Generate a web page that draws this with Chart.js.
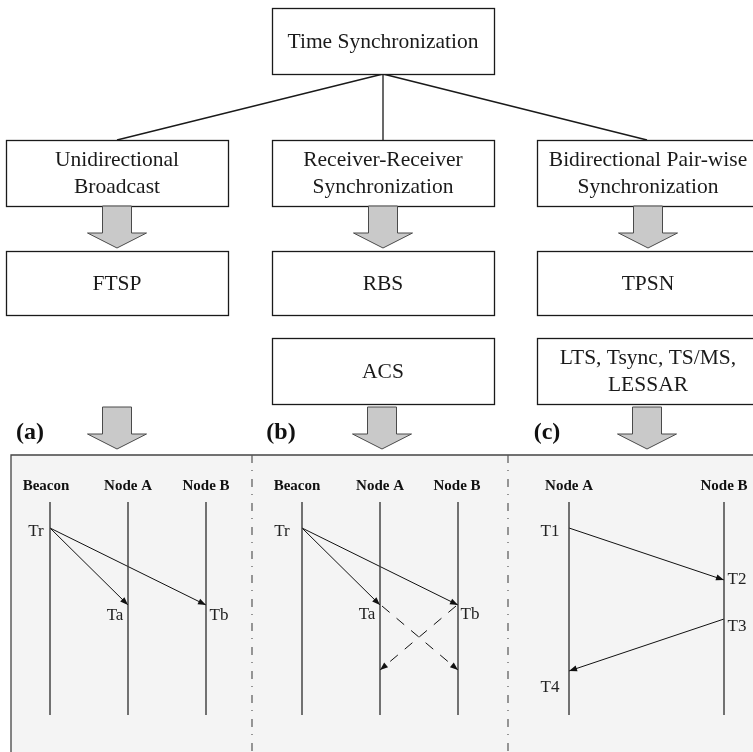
<!DOCTYPE html>
<html>
<head>
<meta charset="utf-8">
<script src="https://cdn.jsdelivr.net/npm/chart.js@4/dist/chart.umd.min.js"></script>
<style>
  html, body { margin: 0; padding: 0; background: #ffffff; }
  canvas { display: block; }
</style>
</head>
<body>
<canvas id="diagram" width="753" height="752"></canvas>
<script>
// ---- Taxonomy tree (diagram units: x 0..753, y 0..752 downwards) ----
const boxRects = [
  [272, 8, 494, 74],
  [6, 140, 228, 206],
  [272, 140, 494, 206],
  [537, 140, 759, 206],
  [6, 251, 228, 315],
  [272, 251, 494, 315],
  [537, 251, 759, 315],
  [272, 338, 494, 404],
  [537, 338, 759, 404]
];
const boxTexts = [
  ["Time Synchronization"],
  ["Unidirectional", "Broadcast"],
  ["Receiver-Receiver", "Synchronization"],
  ["Bidirectional Pair-wise", "Synchronization"],
  ["FTSP"],
  ["RBS"],
  ["TPSN"],
  ["ACS"],
  ["LTS, Tsync, TS/MS,", "LESSAR"]
];
const treeLinks = [
  [383, 74, 117, 140],
  [383, 74, 383, 140],
  [383, 74, 647, 140]
];
// block arrows: centre x, top, tip
const blockArrows = [
  [117, 206, 248], [383, 206, 248], [648, 206, 248],
  [117, 407, 449], [382, 407, 449], [647, 407, 449]
];

// ---- Message diagrams ----
const panelLetters = ["(a)", "(b)", "(c)"];
const panelLetterX = [30, 281, 547];
const panelLetterY = 433;
const panelBand = [11, 455, 753, 752];
const separatorX = [252, 508];

const lifelineNames = ["Beacon", "Node A", "Node B", "Beacon", "Node A", "Node B", "Node A", "Node B"];
const lifelineX = [50, 128, 206, 302, 380, 458, 569, 724];
const lifelineNameX = [46, 128, 206, 297, 380, 457, 569, 724];
const lifelineNameY = 486;
const lifelineSpan = [502, 715];

// messages: x0, y0, x1, y1, dashed
const messages = [
  [50, 528, 128, 605, false],
  [50, 528, 206, 605, false],
  [302, 528, 380, 605, false],
  [302, 528, 458, 605, false],
  [382, 606, 458, 670, true],
  [456, 606, 380, 670, true],
  [569, 528, 724, 580, false],
  [724, 619, 569, 671, false]
];
const eventNames = ["Tr", "Ta", "Tb", "Tr", "Ta", "Tb", "T1", "T2", "T3", "T4"];
const eventX = [36, 115, 219, 282, 367, 470, 550, 737, 737, 550];
const eventY = [532, 616, 616, 532, 615, 615, 532, 580, 627, 688];

const SERIF = '"Liberation Serif", "Times New Roman", serif';

// line datasets built from the arrays above
const datasets = [];
function seg(x0, y0, x1, y1, color, width, dash) {
  datasets.push({
    data: [{ x: x0, y: y0 }, { x: x1, y: y1 }],
    showLine: true,
    borderColor: color,
    borderWidth: width,
    borderDash: dash || [],
    pointRadius: 0,
    fill: false
  });
}
treeLinks.forEach(l => seg(l[0], l[1], l[2], l[3], '#1a1a1a', 1.3));
separatorX.forEach(x => seg(x, panelBand[1], x, panelBand[3], '#555555', 1.2, [8, 7, 1, 8]));
lifelineX.forEach(x => seg(x, lifelineSpan[0], x, lifelineSpan[1], '#3a3a3a', 1.4));
messages.forEach(m => seg(m[0], m[1], m[2], m[3], '#111111', 1, m[4] ? [10, 9] : []));

const diagramPlugin = {
  id: 'diagram',
  beforeDatasetsDraw(chart) {
    const { ctx, scales: { x, y } } = chart;
    const X = v => x.getPixelForValue(v), Y = v => y.getPixelForValue(v);
    ctx.save();
    // shaded band behind the three timing diagrams
    ctx.fillStyle = '#f4f4f4';
    ctx.fillRect(X(panelBand[0]), Y(panelBand[1]), X(panelBand[2]) - X(panelBand[0]), Y(panelBand[3]) - Y(panelBand[1]));
    ctx.strokeStyle = '#444444';
    ctx.lineWidth = 1.3;
    ctx.beginPath();
    ctx.moveTo(X(panelBand[2]), Y(panelBand[1]));
    ctx.lineTo(X(panelBand[0]), Y(panelBand[1]));
    ctx.lineTo(X(panelBand[0]), Y(panelBand[3]));
    ctx.stroke();
    ctx.restore();
  },
  afterDatasetsDraw(chart) {
    const { ctx, scales: { x, y } } = chart;
    const X = v => x.getPixelForValue(v), Y = v => y.getPixelForValue(v);
    ctx.save();
    ctx.textAlign = 'center';
    ctx.textBaseline = 'middle';

    // boxes
    boxRects.forEach((r, i) => {
      const x0 = Math.round(X(r[0])) + 0.5, y0 = Math.round(Y(r[1])) + 0.5;
      const x1 = Math.round(X(r[2])) + 0.5, y1 = Math.round(Y(r[3])) + 0.5;
      ctx.fillStyle = '#ffffff';
      ctx.fillRect(x0, y0, x1 - x0, y1 - y0);
      ctx.strokeStyle = '#1a1a1a';
      ctx.lineWidth = 1.3;
      ctx.strokeRect(x0, y0, x1 - x0, y1 - y0);
      const lines = boxTexts[i];
      const cx = X((r[0] + r[2]) / 2), cy = Y((r[1] + r[3]) / 2);
      ctx.fillStyle = '#1a1a1a';
      ctx.font = '21.5px ' + SERIF;
      const lh = 27;
      lines.forEach((t, k) => {
        ctx.fillText(t, cx, cy + (k - (lines.length - 1) / 2) * lh + 1);
      });
    });

    // grey block arrows
    blockArrows.forEach(a => {
      const cx = X(a[0]), top = Y(a[1]), tip = Y(a[2]);
      const headTop = tip - 15;
      const sw = 14.5, hw = 29.5;
      ctx.beginPath();
      ctx.moveTo(cx - sw, top);
      ctx.lineTo(cx + sw, top);
      ctx.lineTo(cx + sw, headTop);
      ctx.lineTo(cx + hw, headTop);
      ctx.lineTo(cx, tip);
      ctx.lineTo(cx - hw, headTop);
      ctx.lineTo(cx - sw, headTop);
      ctx.closePath();
      ctx.fillStyle = '#c9c9c9';
      ctx.fill();
      ctx.strokeStyle = '#4a4a4a';
      ctx.lineWidth = 1;
      ctx.stroke();
    });

    // panel letters
    ctx.fillStyle = '#111111';
    ctx.font = 'bold 24px ' + SERIF;
    panelLetters.forEach((t, i) => ctx.fillText(t, X(panelLetterX[i]), Y(panelLetterY)));

    // lifeline names
    ctx.font = 'bold 15px ' + SERIF;
    lifelineNames.forEach((t, i) => ctx.fillText(t, X(lifelineNameX[i]), Y(lifelineNameY)));

    // event labels
    ctx.fillStyle = '#222222';
    ctx.font = '17px ' + SERIF;
    eventNames.forEach((t, i) => ctx.fillText(t, X(eventX[i]), Y(eventY[i])));

    // arrow heads on messages
    ctx.fillStyle = '#111111';
    messages.forEach(m => {
      const x0 = X(m[0]), y0 = Y(m[1]), x1 = X(m[2]), y1 = Y(m[3]);
      const ang = Math.atan2(y1 - y0, x1 - x0);
      const len = 8, half = 3;
      ctx.beginPath();
      ctx.moveTo(x1, y1);
      ctx.lineTo(x1 - len * Math.cos(ang) + half * Math.sin(ang), y1 - len * Math.sin(ang) - half * Math.cos(ang));
      ctx.lineTo(x1 - len * Math.cos(ang) - half * Math.sin(ang), y1 - len * Math.sin(ang) + half * Math.cos(ang));
      ctx.closePath();
      ctx.fill();
    });
    ctx.restore();
  }
};

new Chart(document.getElementById('diagram'), {
  type: 'scatter',
  data: { datasets },
  options: {
    responsive: false,
    animation: false,
    devicePixelRatio: 1,
    events: [],
    layout: { padding: 0 },
    plugins: { legend: { display: false }, tooltip: { enabled: false } },
    scales: {
      x: { type: 'linear', min: 0, max: 753, display: false },
      y: { type: 'linear', min: 0, max: 752, reverse: true, display: false }
    }
  },
  plugins: [diagramPlugin]
});
</script>
</body>
</html>
